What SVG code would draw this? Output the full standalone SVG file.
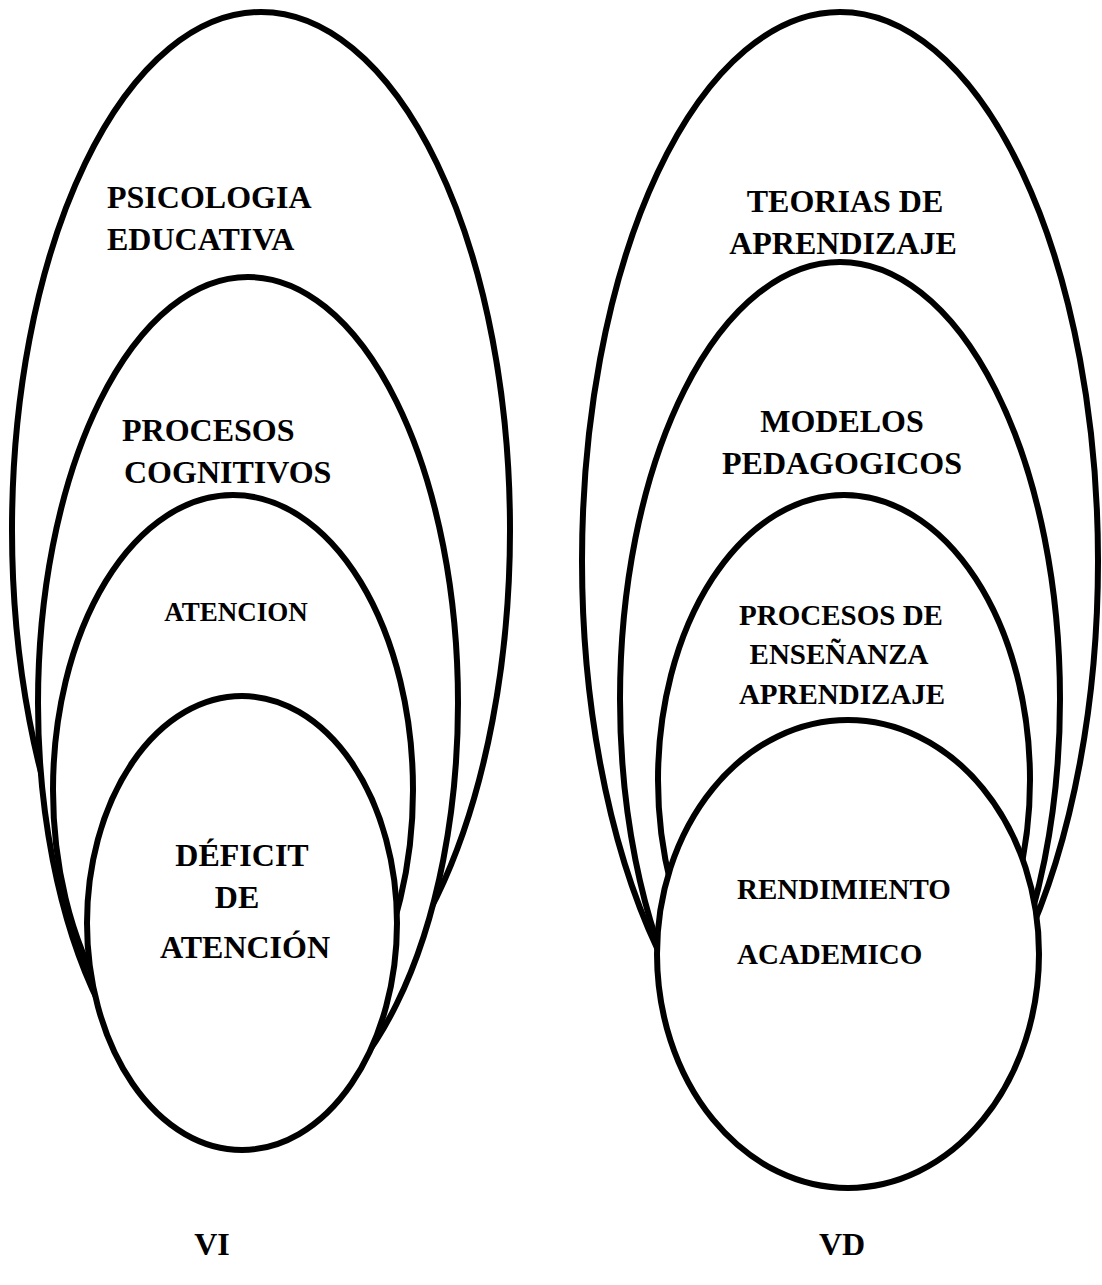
<svg xmlns="http://www.w3.org/2000/svg" width="1102" height="1285" viewBox="0 0 1102 1285">
<style>
  .e { fill: #fff; stroke: #000; stroke-width: 6; }
  .t { font-family: "Liberation Serif", "Times New Roman", serif; font-weight: bold; fill: #000; }
  .l { font-size: 32px; }
  .m { font-size: 29px; }
  .s { font-size: 27px; }
</style>
<rect width="1102" height="1285" fill="#fff"/>
<g id="psicologia">
  <ellipse class="e" cx="261" cy="530" rx="249" ry="518"/>
  <text class="t l" x="107" y="208">PSICOLOGIA</text>
  <text class="t l" x="107" y="250">EDUCATIVA</text>
</g>
<g id="procesos-cognitivos">
  <ellipse class="e" cx="248" cy="703" rx="210" ry="426"/>
  <text class="t l" x="122" y="441">PROCESOS</text>
  <text class="t l" x="124" y="483">COGNITIVOS</text>
</g>
<g id="atencion">
  <ellipse class="e" cx="233" cy="790" rx="180" ry="295"/>
  <text class="t s" x="236" y="621" text-anchor="middle">ATENCION</text>
</g>
<g id="deficit">
  <ellipse class="e" cx="242" cy="923" rx="155" ry="227"/>
  <text class="t l" x="242" y="866" text-anchor="middle">DÉFICIT</text>
  <text class="t l" x="237" y="908" text-anchor="middle">DE</text>
  <text class="t l" x="245" y="958" text-anchor="middle">ATENCIÓN</text>
</g>
<g id="teorias">
  <ellipse class="e" cx="840" cy="561" rx="258" ry="549"/>
  <text class="t l" x="845" y="212" text-anchor="middle">TEORIAS DE</text>
  <text class="t l" x="843" y="254" text-anchor="middle">APRENDIZAJE</text>
</g>
<g id="modelos">
  <ellipse class="e" cx="840" cy="699" rx="220" ry="437"/>
  <text class="t l" x="842" y="432" text-anchor="middle">MODELOS</text>
  <text class="t l" x="842" y="474" text-anchor="middle">PEDAGOGICOS</text>
</g>
<g id="procesos-ensenanza">
  <ellipse class="e" cx="844" cy="780" rx="186" ry="285"/>
  <text class="t m" x="841" y="625" text-anchor="middle">PROCESOS DE</text>
  <text class="t m" x="839" y="664" text-anchor="middle">ENSEÑANZA</text>
  <text class="t m" x="842" y="704" text-anchor="middle">APRENDIZAJE</text>
</g>
<g id="rendimiento">
  <ellipse class="e" cx="848" cy="954" rx="191" ry="234"/>
  <text class="t m" x="737" y="899">RENDIMIENTO</text>
  <text class="t m" x="737" y="964">ACADEMICO</text>
</g>
<g id="connectors"></g>
<g id="labels">
  <text class="t l" x="212" y="1255" text-anchor="middle">VI</text>
  <text class="t l" x="842" y="1255" text-anchor="middle">VD</text>
</g>
</svg>
